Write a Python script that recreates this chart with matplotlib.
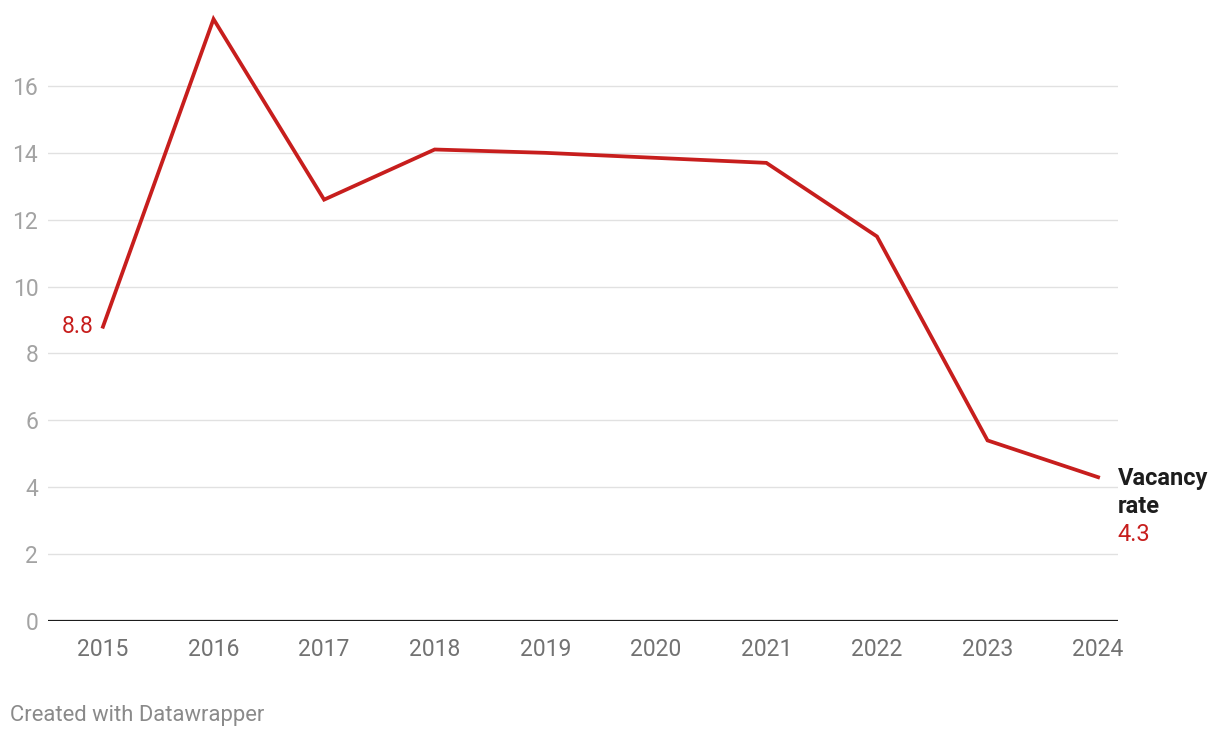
import matplotlib.pyplot as plt

plt.rcParams['font.family'] = ['Roboto', 'DejaVu Sans']

# vacancy rate by year
years = [2015, 2016, 2017, 2018, 2019, 2020, 2021, 2022, 2023, 2024]
vacancy = [8.8, 18.0, 12.6, 14.1, 14.0, 13.85, 13.7, 11.5, 5.4, 4.3]
y_ticks = [0, 2, 4, 6, 8, 10, 12, 14, 16]

red = '#c71e1d'

fig = plt.figure(figsize=(12.2, 7.38), dpi=100)
W, H = 1220, 738
ax = fig.add_axes([48 / W, (H - 621) / H, (1118 - 48) / W, (621 - 12) / H])

ax.plot(years, vacancy, color=red, lw=2.7, solid_joinstyle='miter', zorder=3, clip_on=False)

ax.set_xlim(2014.503, 2024.18)
ax.set_ylim(0, (621 - 12) / 33.44)

for t in y_ticks[1:]:
    ax.axhline(t, color='#e1e1e1', lw=1, zorder=1)
ax.axhline(0, color='#1d1d1d', lw=1.6, zorder=2)

for s in ax.spines.values():
    s.set_visible(False)

ax.set_yticks(y_ticks)
ax.set_yticklabels([str(t) for t in y_ticks])
ax.tick_params(axis='y', length=0, pad=7, labelsize=16.5, labelcolor='#a3a3a3')
ax.set_xticks(years)
ax.set_xticklabels([str(y) for y in years])
ax.tick_params(axis='x', length=0, pad=12, labelsize=16.5, labelcolor='#727272')

# labels at the ends
ax.annotate('8.8', (years[0], vacancy[0]), xytext=(-7, 0), textcoords='offset points',
            ha='right', va='center', color=red, fontsize=16.5)
ax.annotate('Vacancy', (years[-1], vacancy[-1]), xytext=(14, -1), textcoords='offset points',
            ha='left', va='center', color='#1d1d1d', fontsize=17, fontweight='bold',
            annotation_clip=False)
ax.annotate('rate', (years[-1], vacancy[-1]), xytext=(14, -21.2), textcoords='offset points',
            ha='left', va='center', color='#1d1d1d', fontsize=17, fontweight='bold',
            annotation_clip=False)
ax.annotate('4.3', (years[-1], vacancy[-1]), xytext=(14, -41.4), textcoords='offset points',
            ha='left', va='center', color=red, fontsize=17, annotation_clip=False)

fig.text(10 / W, 1 - 715 / H, 'Created with Datawrapper', ha='left', va='center',
         color='#8a8a8a', fontsize=15.8)

fig.savefig('out.png', dpi=100, facecolor='white')
